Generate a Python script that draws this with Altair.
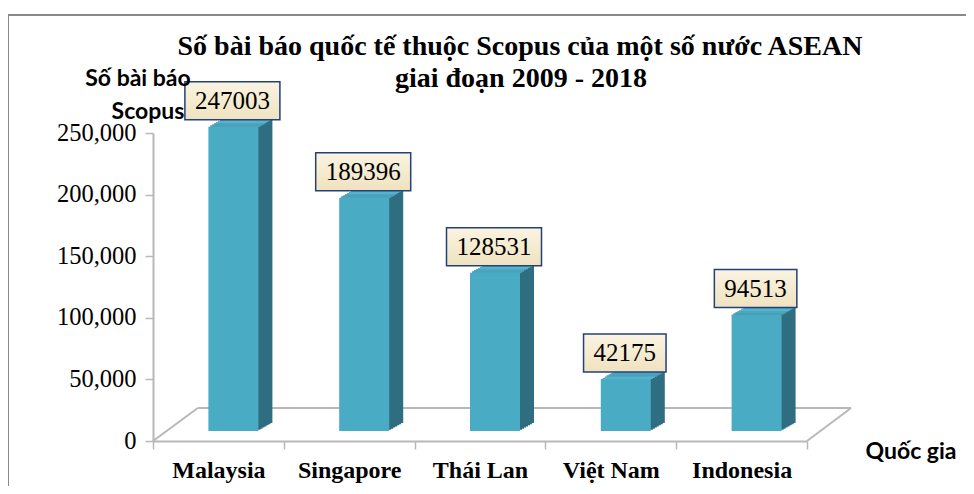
import altair as alt
import pandas as pd

# ---- data ----
countries = ["Malaysia", "Singapore", "Thái Lan", "Việt Nam", "Indonesia"]
papers = [247003, 189396, 128531, 42175, 94513]
y_ticks = [0, 50000, 100000, 150000, 200000, 250000]
title_lines = ["Số bài báo quốc tế thuộc Scopus của một số nước ASEAN", "giai đoạn 2009 - 2018"]
y_title_lines = ["Số bài báo", "Scopus"]
x_title = "Quốc gia"

df = pd.DataFrame({"country": countries, "papers": papers})
one = pd.DataFrame({"k": [0]})

# ---- style ----
W, H = 654, 308
FRONT = "#4aabc5"
SIDE = "#2f6e80"
CAP = "#55b4cd"
DX, DY, STEPS = 14, 8, 7
LIFT, SHIFT = 10, 15
BAR_W = 50
SERIF = "Liberation Serif"
SANS = "Lato"
GRID_GRAY = "#b8b8b8"

x_enc = alt.X(
    "country:N", sort=countries, title=None,
    scale=alt.Scale(paddingInner=0, paddingOuter=0),
    axis=alt.Axis(labelAngle=0, labelFont=SERIF, labelFontWeight="bold", labelFontSize=24,
                  labelColor="black", labelPadding=9, tickBand="extent", tickSize=8,
                  tickColor=GRID_GRAY, tickWidth=1.5, domainColor=GRID_GRAY, domainWidth=2),
)
y_enc = alt.Y(
    "papers:Q", title=None,
    scale=alt.Scale(domain=[0, 250000], nice=False),
    axis=alt.Axis(values=y_ticks, format=",d", labelFont=SERIF, labelFontSize=24.5,
                  labelColor="black", labelPadding=9, tickSize=8, tickColor=GRID_GRAY,
                  tickWidth=1.5, domainColor=GRID_GRAY, domainWidth=2, grid=False),
)

base = alt.Chart(df)
layers = []

# floor (3D base plate)
floor = alt.Chart(one)
layers.append(floor.mark_rule(color=GRID_GRAY, strokeWidth=2).encode(
    x=alt.value(DX * 3.2), x2=alt.value(W + DX * 3.15), y=alt.value(H - 33)))
layers.append(floor.mark_rule(color=GRID_GRAY, strokeWidth=2).encode(
    x=alt.value(0), x2=alt.value(DX * 3.2), y=alt.value(H), y2=alt.value(H - 33)))
layers.append(floor.mark_rule(color=GRID_GRAY, strokeWidth=2).encode(
    x=alt.value(W), x2=alt.value(W + DX * 3.15), y=alt.value(H), y2=alt.value(H - 33)))

# dark side of each block
for k in range(1, STEPS + 1):
    ox = SHIFT + DX * k / STEPS
    oy = -LIFT - DY * k / STEPS
    layers.append(base.mark_bar(size=BAR_W, color=SIDE, xOffset=ox, x2Offset=ox,
                                yOffset=oy, y2Offset=oy).encode(
        x=x_enc, y=y_enc, y2=alt.datum(0)))
# top cap of each block
for k in range(1, STEPS + 1):
    ox = SHIFT + DX * k / STEPS
    layers.append(base.mark_bar(size=BAR_W, color=CAP, xOffset=ox, x2Offset=ox,
                                yOffset=-LIFT - DY * k / STEPS,
                                y2Offset=-LIFT - DY * (k - 1) / STEPS).encode(
        x=x_enc, y=y_enc, y2="papers:Q"))
# front face
layers.append(base.mark_bar(size=BAR_W, color=FRONT, xOffset=SHIFT, x2Offset=SHIFT,
                            yOffset=-LIFT, y2Offset=-LIFT).encode(
    x=x_enc, y=y_enc, y2=alt.datum(0)))

# value label boxes
box_fill = alt.Gradient(gradient="linear", x1=0, x2=0, y1=0, y2=1,
                        stops=[alt.GradientStop(color="#fbf4e2", offset=0),
                               alt.GradientStop(color="#efe2bf", offset=1)])
layers.append(base.transform_calculate(
    bw="length(toString(datum.papers)) * 12.5 + 20").mark_bar(
    color=box_fill, stroke="#23407a", strokeWidth=1.5, xOffset=14, x2Offset=14,
    yOffset=-55, y2Offset=-17).encode(
    x=x_enc, y=y_enc, y2="papers:Q", size=alt.Size("bw:Q", scale=None, legend=None)))
layers.append(base.mark_text(font=SERIF, fontSize=25, color="black", baseline="middle",
                             xOffset=14, yOffset=-36).encode(
    x=x_enc, y=y_enc, text=alt.Text("papers:Q", format="d")))

# titles as text
deco = alt.Chart(one)
layers.append(deco.mark_text(font=SERIF, fontWeight="bold", fontSize=28, color="black",
                             baseline="middle").encode(
    x=alt.value(367), y=alt.value(-86), text=alt.value(title_lines[0])))
layers.append(deco.mark_text(font=SERIF, fontWeight="bold", fontSize=28, color="black",
                             baseline="middle").encode(
    x=alt.value(368), y=alt.value(-54), text=alt.value(title_lines[1])))
layers.append(deco.mark_text(font=SANS, fontWeight="bold", fontSize=23, color="black",
                             baseline="middle").encode(
    x=alt.value(-15), y=alt.value(-54), text=alt.value(y_title_lines[0])))
layers.append(deco.mark_text(font=SANS, fontWeight="bold", fontSize=23, color="black",
                             baseline="middle").encode(
    x=alt.value(-5), y=alt.value(-21), text=alt.value(y_title_lines[1])))
layers.append(deco.mark_text(font=SANS, fontWeight="bold", fontSize=23, color="black",
                             baseline="middle").encode(
    x=alt.value(758), y=alt.value(319), text=alt.value(x_title)))

# outer frame
layers.append(deco.mark_rule(color="#8a8a8a", strokeWidth=2).encode(
    x=alt.value(-145), x2=alt.value(W + 160), y=alt.value(-118)))
layers.append(deco.mark_rule(color="#8a8a8a", strokeWidth=2).encode(
    x=alt.value(-145), y=alt.value(-118), y2=alt.value(H + 50)))

chart = alt.layer(*layers).properties(
    width=W, height=H,
    padding={"left": 145, "top": 125, "right": 159, "bottom": 45},
    autosize=alt.AutoSizeParams(type="none"),
    background="white",
).configure_view(stroke=None)

chart.save("out.html", embed_options={"renderer": "svg", "actions": False})
